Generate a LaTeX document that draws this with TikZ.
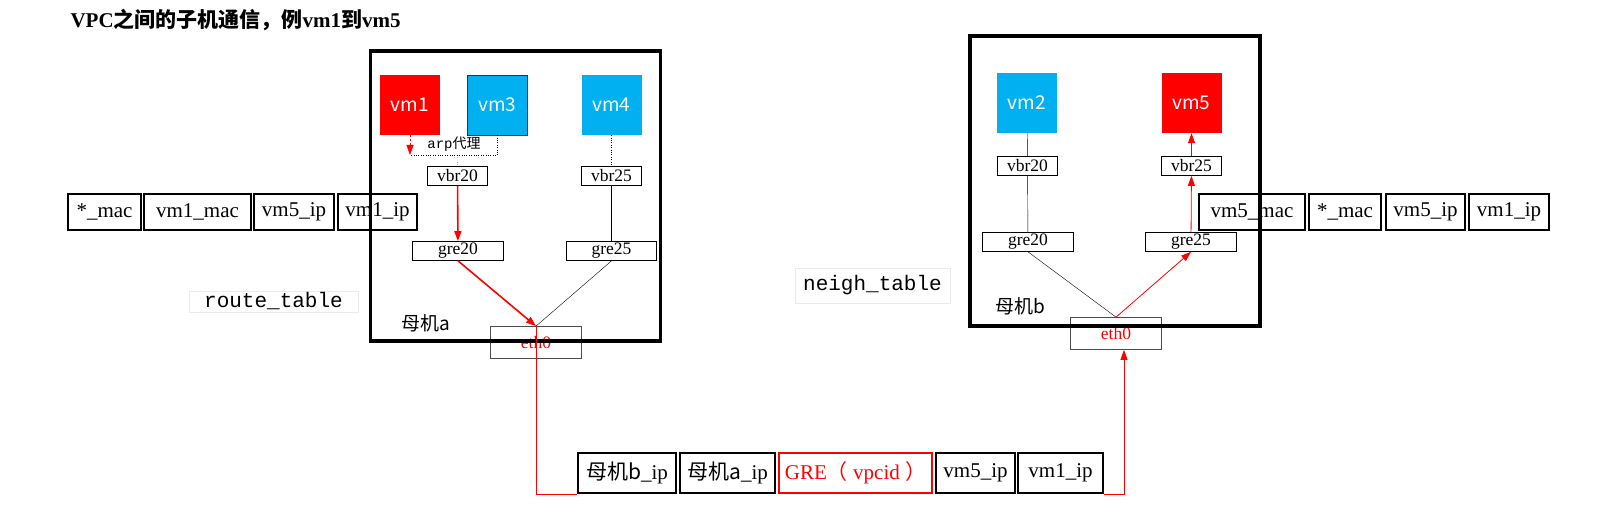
\documentclass[tikz,border=0pt]{standalone}
\usepackage{fontspec}
\setmainfont{Liberation Serif}
\setmonofont{Liberation Mono}
\newfontfamily\cjk{Noto Sans CJK SC}
\usetikzlibrary{arrows.meta}
\definecolor{vmblue}{HTML}{00B0F0}
\definecolor{vmred}{HTML}{FF0000}

\begin{document}
\begin{tikzpicture}[x=1pt,y=-1pt,>={Triangle[length=10pt,width=7pt]},
                    host/.style={draw, line width=3.4pt, minimum width=290pt, minimum height=290pt},
                    vm/.style={minimum width=60pt, minimum height=60pt, text=white, font=\cjk\fontsize{19}{22}\selectfont},
                    dev/.style={draw, fill=white, line width=0.7pt, inner sep=0pt, minimum height=19pt, font=\fontsize{17.5}{19}\selectfont},
                    pkt/.style={draw, fill=white, line width=2.4pt, inner sep=0pt, minimum height=36pt, font=\fontsize{21}{24}\selectfont},
                    tbl/.style={draw=black!8, line width=0.6pt, inner sep=0pt, font=\ttfamily\fontsize{21}{24}\selectfont}]
\useasboundingbox (0,0) rectangle (1598,513);
\fill[white] (0,0) rectangle (1598,513);

\node[anchor=west, font=\bfseries\fontsize{21}{24}\selectfont] (title) at (67,20) {VPC{\cjk 之间的子机通信，例}vm1{\cjk 到}vm5};

% packets
\node[pkt, minimum width=73pt] (l1) at (104.5,212) {*\_mac};
\node[pkt, minimum width=107pt] (l2) at (197.5,212) {vm1\_mac};
\node[pkt, minimum width=80pt] (l3) at (294,212) {vm5\_ip};
\node[pkt, minimum width=79pt] (l4) at (377.5,212) {vm1\_ip};

\node[pkt, minimum width=106pt] (r1) at (1252,212) {vm5\_mac};
\node[pkt, minimum width=72pt] (r2) at (1345,212) {*\_mac};
\node[pkt, minimum width=79pt] (r3) at (1425.5,212) {vm5\_ip};
\node[pkt, minimum width=80pt] (r4) at (1509,212) {vm1\_ip};

\node[pkt, minimum height=40pt, minimum width=98pt] (b1) at (627,473) {{\cjk 母机b}\_ip};
\node[pkt, minimum height=40pt, minimum width=95pt] (b2) at (727.5,473) {{\cjk 母机a}\_ip};
\node[pkt, minimum height=40pt, minimum width=153pt, draw=red, text=red] (b3) at (855.5,473) {GRE{\cjk （} vpcid {\cjk ）}};
\node[pkt, minimum height=40pt, minimum width=79pt] (b4) at (975.5,473) {vm5\_ip};
\node[pkt, minimum height=40pt, minimum width=85pt] (b5) at (1060.5,473) {vm1\_ip};

\node[dev, draw=black!70, minimum width=91pt, minimum height=32pt, text=red] (eth0a) at (536,342.5) {eth0};
\node[dev, draw=black!70, minimum width=91pt, minimum height=32pt, text=red] (eth0b) at (1116,333.5) {eth0};

% hosts
\node[host] (hosta) at (515.5,196) {};
\node[host] (hostb) at (1115,181) {};
\node[font=\cjk\fontsize{19}{22}\selectfont] (laba) at (426,323) {母机a};
\node[font=\cjk\fontsize{19}{22}\selectfont] (labb) at (1020,306) {母机b};

\node[tbl, minimum width=169pt, minimum height=21pt] (route) at (273.5,301.5) {route\_table};
\node[tbl, minimum width=155pt, minimum height=35pt] (neigh) at (872.5,285.5) {neigh\_table};

% host a
\node[vm, fill=vmred] (vm1) at (410,105) {vm1};
\node[vm, fill=vmblue, draw=black!80, line width=0.6pt] (vm3) at (497.5,105) {vm3};
\node[vm, fill=vmblue] (vm4) at (611.5,105) {vm4};
\node[dev, minimum width=60pt] (vbr20a) at (457.5,176) {vbr20};
\node[dev, minimum width=60pt] (vbr25a) at (611.5,176) {vbr25};
\node[dev, minimum width=91pt] (gre20a) at (458,251) {gre20};
\node[dev, minimum width=90pt] (gre25a) at (611.5,251) {gre25};
\node[font=\fontsize{14}{16}\selectfont] (arp) at (454,144) {\texttt{arp}{\cjk 代理}};
\coordinate (arpl) at (410,155);
\coordinate (arpm) at (458,155);

% host b
\node[vm, fill=vmblue] (vm2) at (1027,103) {vm2};
\node[vm, fill=vmred] (vm5) at (1191.5,103) {vm5};
\node[dev, minimum width=60pt] (vbr20b) at (1027.5,166) {vbr20};
\node[dev, minimum width=60pt] (vbr25b) at (1191.5,166) {vbr25};
\node[dev, minimum width=91pt] (gre20b) at (1028,242) {gre20};
\node[dev, minimum width=91pt] (gre25b) at (1191,242) {gre25};

\draw[dotted] (vm3.south) |- (arpl);
\draw[dotted] (arpm) -- (vbr20a.north);
\draw[->,red,dash pattern=on 2pt off 2pt] (vm1.south) -- (arpl);
\draw[dotted] (vm4) -- (vbr25a);
\draw[->,red,line width=1.6pt] (vbr20a) -- (gre20a);
\draw[thin] (vbr25a) -- (gre25a);
\draw[->,red,line width=1.6pt] (gre20a.south) -- (eth0a.north);
\draw[thin] (gre25a.south) -- (eth0a.north);

\draw[red,line width=0.8pt] (eth0a.north) |- (b1.south west);
\draw[->,red,line width=0.8pt] (b5.south east) -| ([xshift=8pt]eth0b.south);

\draw[->,red,line width=0.8pt] (eth0b.north) -- (gre25b.south);
\draw[thin] (gre20b.south) -- (eth0b.north);
\draw[->,red,line width=0.8pt] (gre25b) -- (vbr25b);
\draw[->,red,line width=0.8pt] (vbr25b) -- (vm5);
\draw[thin] (vm2) -- (vbr20b);
\draw[thin] (vbr20b) -- (gre20b);

\end{tikzpicture}
\end{document}
